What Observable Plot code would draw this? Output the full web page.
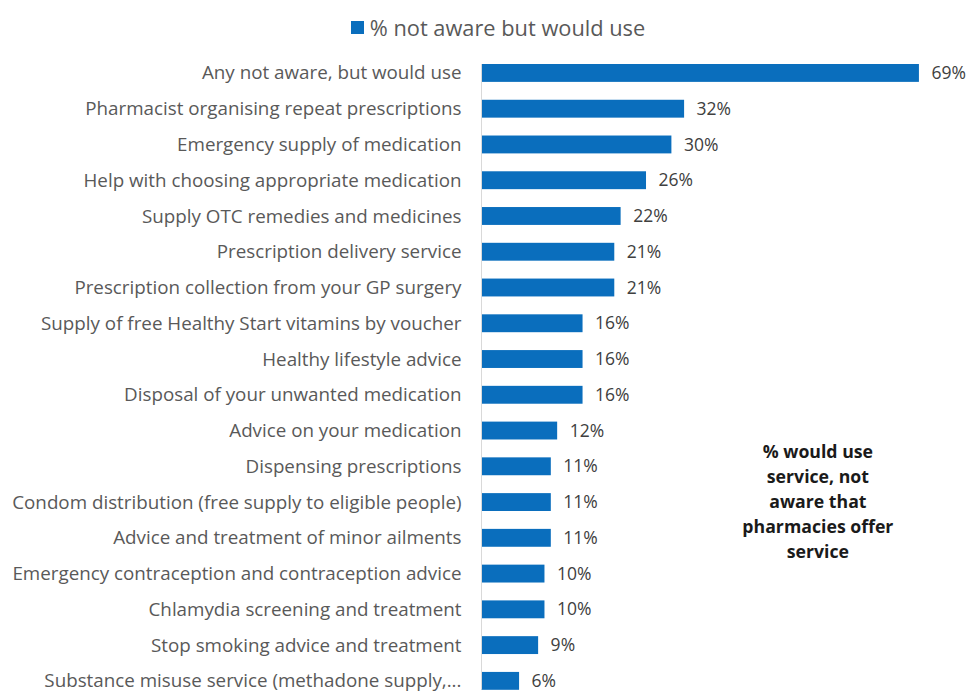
<!DOCTYPE html>
<html>
<head>
<meta charset="utf-8">
<script src="https://cdn.jsdelivr.net/npm/d3@7"></script>
<script src="https://cdn.jsdelivr.net/npm/@observablehq/plot@0.6"></script>
<style>
  html, body { margin: 0; padding: 0; background: #fff; }
  #wrap { width: 970px; height: 693px; overflow: hidden; font-family: "Open Sans", sans-serif; }
  #legend { height: 50px; display: flex; align-items: center; justify-content: center; font-size: 21.8px; color: #595959; padding-left: 26px; padding-top: 4px; box-sizing: border-box; }
  #legend .sw { width: 13px; height: 13px; background: #0a6ebd; margin-right: 6px; display: inline-block; }
  svg { display: block; }
</style>
</head>
<body>
<div id="wrap">
  <div id="legend"><span class="sw"></span><span>% not aware but would use</span></div>
  <div id="chart"></div>
</div>
<script>
const categories = [
  "Any not aware, but would use",
  "Pharmacist organising repeat prescriptions",
  "Emergency supply of medication",
  "Help with choosing appropriate medication",
  "Supply OTC remedies and medicines",
  "Prescription delivery service",
  "Prescription collection from your GP surgery",
  "Supply of free Healthy Start vitamins by voucher",
  "Healthy lifestyle advice",
  "Disposal of your unwanted medication",
  "Advice on your medication",
  "Dispensing prescriptions",
  "Condom distribution (free supply to eligible people)",
  "Advice and treatment of minor ailments",
  "Emergency contraception and contraception advice",
  "Chlamydia screening and treatment",
  "Stop smoking advice and treatment",
  "Substance misuse service (methadone supply,..."
];
const values = [69, 32, 30, 26, 22, 21, 21, 16, 16, 16, 12, 11, 11, 11, 10, 10, 9, 6];
const seriesName = "% not aware but would use";
const annotationLines = ["% would use", "service, not", "aware that", "pharmacies offer", "service"];
const annotationX = 53;
const annotationRow = "Condom distribution (free supply to eligible people)";

const data = categories.map((c, i) => ({category: c, value: values[i]}));

const chart = Plot.plot({
  width: 970,
  height: 643,
  marginLeft: 481,
  marginRight: 13,
  marginTop: 14,
  marginBottom: 3.2,
  style: {fontFamily: "'Open Sans', sans-serif", background: "#fff"},
  x: {domain: [0, 75], axis: null},
  y: {domain: categories, paddingInner: 0.5, paddingOuter: 0, round: false, label: null},
  marks: [
    Plot.axisY({tickSize: 0, tickPadding: 20, fontSize: 18.8, color: "#595959", label: null}),
    Plot.barX(data, {x: "value", y: "category", fill: "#0a6ebd"}),
    Plot.ruleX([0], {stroke: "#d9d9d9", strokeWidth: 1}),
    Plot.text(data, {x: "value", y: "category", text: d => d.value + "%", textAnchor: "start", dx: 12, fontSize: 17.5, fill: "#404040"}),
    Plot.text([annotationLines.join("\n")], {x: () => annotationX, y: () => annotationRow, text: d => d, textAnchor: "middle", lineAnchor: "middle", dy: -3, lineHeight: 25 / 17.7, fontSize: 17.7, fontWeight: "bold", fill: "#1a1a1a"})
  ]
});
document.getElementById("chart").appendChild(chart);
</script>
</body>
</html>
